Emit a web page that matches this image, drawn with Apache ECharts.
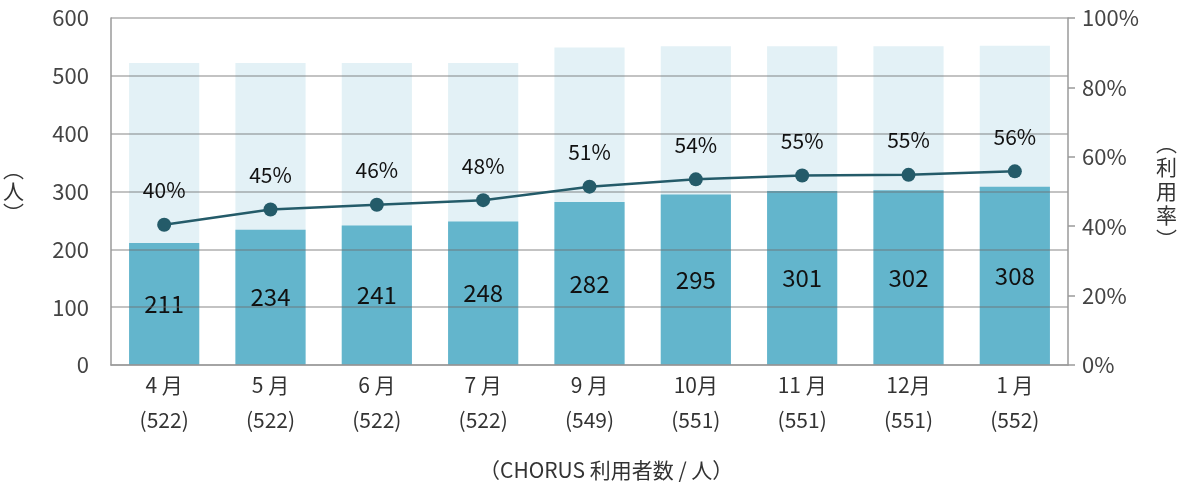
<!DOCTYPE html>
<html>
<head>
<meta charset="utf-8">
<script src="https://cdn.jsdelivr.net/npm/echarts@6/dist/echarts.min.js"></script>
<style>
  html, body { margin: 0; padding: 0; background: #fff; }
  #chart { width: 1184px; height: 489px; }
</style>
</head>
<body>
<div id="chart"></div>
<script>
// months and registered totals (shown in brackets under each month)
var months = ['4 月', '5 月', '6 月', '7 月', '9 月', '10月', '11 月', '12月', '1 月'];
var totals = [522, 522, 522, 522, 549, 551, 551, 551, 552];
// CHORUS users per month
var users = [211, 234, 241, 248, 282, 295, 301, 302, 308];
// usage rate, percent
var rates = [40.4, 44.8, 46.2, 47.5, 51.4, 53.5, 54.6, 54.8, 55.8];

var leftTicks = [0, 100, 200, 300, 400, 500, 600];
var rightTicks = [0, 20, 40, 60, 80, 100];

var FONT = '"Noto Sans CJK JP", "Noto Sans", sans-serif';

var catLabels = months.map(function (m, i) {
    return m + '\n(' + totals[i] + ')';
});

var chart = echarts.init(document.getElementById('chart'), null, { renderer: 'canvas' });

chart.setOption({
    animation: false,
    backgroundColor: '#fff',
    textStyle: { fontFamily: FONT },
    title: {
        text: '（CHORUS 利用者数 / 人）',
        left: 474,
        top: 455,
        textStyle: { fontFamily: FONT, fontSize: 21, fontWeight: 'normal', color: '#333' }
    },
    grid: { left: 111, right: 116, top: 18, bottom: 124, outerBoundsMode: 'none', containLabel: false },
    xAxis: {
        type: 'category',
        data: catLabels,
        axisLine: { lineStyle: { color: '#9a9a9a', width: 1.5 } },
        axisTick: { show: false },
        axisLabel: {
            margin: 3,
            fontSize: 21,
            lineHeight: 35,
            color: '#333',
            fontFamily: FONT
        },
        z: 3
    },
    yAxis: [{
        type: 'value',
        min: leftTicks[0],
        max: leftTicks[leftTicks.length - 1],
        interval: 100,
        name: '︵\n人\n︶',
        nameLocation: 'middle',
        nameGap: 87,
        nameRotate: 0,
        nameTextStyle: { fontSize: 21, lineHeight: 22, color: '#333', fontFamily: FONT },
        axisLine: { show: true, lineStyle: { color: '#9a9a9a', width: 1.5 } },
        axisTick: { show: false },
        axisLabel: { margin: 22, fontSize: 22, color: '#444', fontFamily: FONT },
        splitLine: { lineStyle: { color: 'rgba(110,110,110,0.55)', width: 1.5 } },
        z: 3
    }, {
        type: 'value',
        min: rightTicks[0],
        max: rightTicks[rightTicks.length - 1],
        interval: 20,
        name: '︵\n利\n用\n率\n︶',
        nameLocation: 'middle',
        nameGap: 88,
        nameRotate: 0,
        nameTextStyle: { fontSize: 21, lineHeight: 24, color: '#333', fontFamily: FONT },
        axisLine: { show: true, lineStyle: { color: '#9a9a9a', width: 1.5 } },
        axisTick: { show: true, length: 7, lineStyle: { color: '#9a9a9a', width: 1.5 } },
        axisLabel: { margin: 14, fontSize: 22, color: '#444', fontFamily: FONT, formatter: '{value}%' },
        splitLine: { show: false },
        z: 3
    }],
    series: [{
        name: '登録者数',
        type: 'bar',
        data: totals,
        barWidth: '66%',
        barGap: '-100%',
        itemStyle: { color: '#e3f1f6' },
        silent: true,
        z: 1
    }, {
        name: '利用者数',
        type: 'bar',
        data: users,
        barWidth: '66%',
        itemStyle: { color: '#63b5cc' },
        label: {
            show: true,
            position: 'inside',
            fontSize: 24,
            color: '#111',
            fontFamily: FONT
        },
        z: 2
    }, {
        name: '利用率',
        type: 'line',
        yAxisIndex: 1,
        data: rates,
        symbol: 'circle',
        symbolSize: 14,
        lineStyle: { color: '#245b69', width: 2.5 },
        itemStyle: { color: '#245b69' },
        label: {
            show: true,
            position: 'top',
            distance: 17,
            fontSize: 21,
            color: '#111',
            fontFamily: FONT,
            formatter: function (p) { return Math.round(p.value) + '%'; }
        },
        z: 5
    }]
});

window.addEventListener('resize', function () {
    if (chart) chart.resize();
});
</script>
</body>
</html>
